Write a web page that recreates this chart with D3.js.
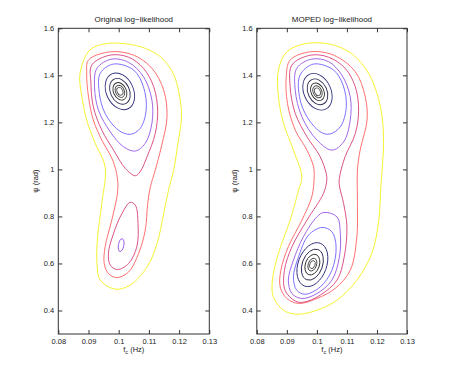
<!DOCTYPE html>
<html>
<head>
<meta charset="utf-8">
<script src="https://cdn.jsdelivr.net/npm/d3@7"></script>
<style>
  body { margin: 0; background: #fff; }
  svg { display: block; }
  text { font-family: "Liberation Sans", Arial, Helvetica, sans-serif; fill: #222; }
</style>
</head>
<body>
<svg id="chart" width="450" height="377"></svg>
<script>
// axis ticks
const fTicks = [0.08, 0.09, 0.1, 0.11, 0.12, 0.13];
const fTickLabels = ["0.08", "0.09", "0.1", "0.11", "0.12", "0.13"];
const psiTicks = [0.4, 0.6, 0.8, 1.0, 1.2, 1.4, 1.6];
const psiTickLabels = ["0.4", "0.6", "0.8", "1", "1.2", "1.4", "1.6"];
const titles = ["Original log\u2212likelihood", "MOPED log\u2212likelihood"];

// contour level colours, outermost (lowest) to innermost (peak)
const levelColors = ["#f2f21a", "#ff6060", "#d6407a", "#9456e6", "#6e60ff",
  "#32327e", "#2a2a52", "#303030", "#404040", "#505050"];

// ---- Original log-likelihood: traced contours [f_c, psi]
const origYellow = [[0.0966, 1.536], [0.0905, 1.508], [0.0872, 1.409], [0.0878, 1.309],
  [0.0894, 1.21], [0.0922, 1.111], [0.0955, 1.011], [0.0944, 0.855], [0.0930, 0.713],
  [0.0928, 0.60], [0.0939, 0.529], [0.0988, 0.491], [0.1038, 0.508], [0.1094, 0.585],
  [0.1127, 0.685], [0.1149, 0.813], [0.1165, 0.912], [0.1182, 0.997], [0.1196, 1.111],
  [0.1208, 1.224], [0.1200, 1.323], [0.1180, 1.409], [0.1138, 1.479], [0.1071, 1.522]];
const origRed = [[0.0972, 1.50], [0.0900, 1.465], [0.0894, 1.409], [0.0900, 1.309],
  [0.0916, 1.21], [0.0944, 1.125], [0.0980, 1.04], [0.0996, 0.96], [0.0996, 0.90],
  [0.0977, 0.784], [0.0955, 0.671], [0.0952, 0.60], [0.0966, 0.557], [0.0994, 0.540],
  [0.1033, 0.564], [0.1066, 0.643], [0.1088, 0.742], [0.1096, 0.855], [0.1105, 0.926],
  [0.1121, 0.997], [0.1142, 1.10], [0.1160, 1.224], [0.1149, 1.337], [0.1110, 1.430],
  [0.1049, 1.486]];
const origMagentaTop = [[0.0972, 1.486], [0.0911, 1.444], [0.0908, 1.366], [0.0916, 1.266],
  [0.0944, 1.167], [0.0983, 1.082], [0.1022, 1.004], [0.1055, 0.973], [0.1071, 0.99],
  [0.1094, 1.054], [0.1121, 1.153], [0.1129, 1.252], [0.1116, 1.351], [0.1082, 1.430],
  [0.1033, 1.477]];
const origMagentaLow = [[0.1038, 0.860], [0.1011, 0.813], [0.0983, 0.728], [0.0966, 0.643],
  [0.0972, 0.593], [0.0996, 0.574], [0.1033, 0.60], [0.1060, 0.671], [0.1064, 0.770],
  [0.1055, 0.848]];
const origPurpleTop = [[0.0977, 1.469], [0.0928, 1.430], [0.0920, 1.351], [0.0933, 1.252],
  [0.0972, 1.160], [0.1016, 1.096], [0.1055, 1.078], [0.1088, 1.111], [0.1110, 1.196],
  [0.1110, 1.295], [0.1082, 1.394], [0.1033, 1.455]];
const origBlueTop = [[0.0983, 1.448], [0.0939, 1.409], [0.0936, 1.323], [0.0955, 1.238],
  [0.0999, 1.167], [0.1038, 1.149], [0.1071, 1.174], [0.1091, 1.252], [0.1082, 1.351],
  [0.1049, 1.423]];
// closed small contours as ellipses: [f_c, psi, half-axis f, half-axis psi, tilt deg, level]
const origRings = [
  [0.1004, 1.332, 0.00449, 0.0817, -25, 5],
  [0.1004, 1.332, 0.00316, 0.0574, -25, 6],
  [0.1004, 1.332, 0.00213, 0.0391, -25, 7],
  [0.1004, 1.332, 0.00146, 0.0268, -25, 8],
  [0.1004, 1.332, 0.00093, 0.0170, -25, 9],
  [0.1008, 0.678, 0.00090, 0.0275, 10, 3]];

// ---- MOPED log-likelihood
const mopedYellow = [[0.0967, 1.536], [0.0900, 1.50], [0.0872, 1.423], [0.0872, 1.309],
  [0.0889, 1.196], [0.0922, 1.082], [0.0950, 0.968], [0.0939, 0.912], [0.0911, 0.784],
  [0.0872, 0.643], [0.0852, 0.529], [0.0855, 0.458], [0.0889, 0.401], [0.0933, 0.384],
  [0.1000, 0.401], [0.1067, 0.444], [0.1133, 0.529], [0.1183, 0.643], [0.1206, 0.784],
  [0.1213, 0.926], [0.1217, 0.997], [0.1222, 1.111], [0.1217, 1.224], [0.1200, 1.323],
  [0.1172, 1.409], [0.1122, 1.486], [0.1055, 1.529]];
const mopedRed = [[0.0978, 1.50], [0.0911, 1.465], [0.0898, 1.394], [0.0902, 1.281],
  [0.0928, 1.167], [0.0967, 1.082], [0.0989, 1.011], [0.0991, 0.968], [0.0983, 0.883],
  [0.0950, 0.784], [0.0905, 0.671], [0.0880, 0.571], [0.0878, 0.50], [0.0900, 0.451],
  [0.0939, 0.430], [0.1000, 0.451], [0.1061, 0.494], [0.1111, 0.571], [0.1133, 0.713],
  [0.1135, 0.855], [0.1135, 0.997], [0.1144, 1.082], [0.1167, 1.21], [0.1161, 1.309],
  [0.1128, 1.415], [0.1055, 1.486]];
const mopedMagenta = [[0.0980, 1.486], [0.0917, 1.444], [0.0911, 1.351], [0.0928, 1.238],
  [0.0967, 1.139], [0.1011, 1.054], [0.1031, 0.983], [0.1033, 0.954], [0.1022, 0.898],
  [0.0967, 0.784], [0.0917, 0.671], [0.0892, 0.571], [0.0894, 0.486], [0.0928, 0.440],
  [0.0955, 0.435], [0.1011, 0.465], [0.1067, 0.529], [0.1091, 0.628], [0.1100, 0.756],
  [0.1089, 0.855], [0.1074, 0.940], [0.1078, 0.983], [0.1094, 1.054], [0.1128, 1.153],
  [0.1139, 1.252], [0.1128, 1.351], [0.1094, 1.430], [0.1039, 1.477]];
const mopedPurpleTop = [[0.0983, 1.469], [0.0933, 1.430], [0.0928, 1.337], [0.0950, 1.224],
  [0.1000, 1.125], [0.1050, 1.082], [0.1089, 1.117], [0.1111, 1.21], [0.1111, 1.309],
  [0.1083, 1.401], [0.1039, 1.458]];
const mopedBlueTop = [[0.0989, 1.448], [0.0944, 1.401], [0.0942, 1.309], [0.0967, 1.224],
  [0.1011, 1.16], [0.1042, 1.150], [0.1078, 1.181], [0.1098, 1.266], [0.1087, 1.359],
  [0.1055, 1.423]];
const mopedPurpleLow = [[0.1024, 0.817], [0.1000, 0.798], [0.0955, 0.713], [0.0922, 0.614],
  [0.0905, 0.529], [0.0917, 0.472], [0.0950, 0.451], [0.1000, 0.472], [0.1050, 0.529],
  [0.1075, 0.628], [0.1078, 0.728], [0.1067, 0.798]];
const mopedBlueLow = [[0.1017, 0.753], [0.0972, 0.720], [0.0939, 0.628], [0.0922, 0.543],
  [0.0933, 0.486], [0.0961, 0.469], [0.1011, 0.50], [0.1050, 0.571], [0.1064, 0.671],
  [0.1050, 0.735]];
const mopedRings = [
  [0.1002, 1.330, 0.00449, 0.0817, -25, 5],
  [0.1002, 1.330, 0.00316, 0.0574, -25, 6],
  [0.1002, 1.330, 0.00213, 0.0391, -25, 7],
  [0.1002, 1.330, 0.00146, 0.0268, -25, 8],
  [0.1002, 1.330, 0.00093, 0.0170, -25, 9],
  [0.0985, 0.595, 0.00474, 0.0970, 20, 5],
  [0.0985, 0.595, 0.00338, 0.0685, 20, 6],
  [0.0985, 0.595, 0.00232, 0.0455, 20, 7],
  [0.0985, 0.595, 0.00138, 0.0280, 20, 8],
  [0.0985, 0.595, 0.00087, 0.0175, 20, 9]];

const panels = [
  {
    title: titles[0], left: 58.3, right: 209.3,
    paths: [[origYellow, 0], [origRed, 1], [origMagentaTop, 2], [origMagentaLow, 2],
      [origPurpleTop, 3], [origBlueTop, 4]],
    rings: origRings
  },
  {
    title: titles[1], left: 256.8, right: 407,
    paths: [[mopedYellow, 0], [mopedRed, 1], [mopedMagenta, 2], [mopedPurpleTop, 3],
      [mopedBlueTop, 4], [mopedPurpleLow, 3], [mopedBlueLow, 4]],
    rings: mopedRings
  }
];

const plotTop = 28.3, plotBottom = 334;
const svg = d3.select("#chart");
svg.append("rect").attr("width", 450).attr("height", 377).attr("fill", "#fff");

panels.forEach((p) => {
  const x = d3.scaleLinear().domain([0.08, 0.13]).range([p.left, p.right]);
  const y = d3.scaleLinear().domain([0.3, 1.6]).range([plotBottom, plotTop]);
  const g = svg.append("g");

  const line = d3.line()
    .x((d) => x(d[0]))
    .y((d) => y(d[1]))
    .curve(d3.curveCatmullRomClosed.alpha(0.5));

  g.selectAll("path.contour")
    .data(p.paths)
    .join("path")
    .attr("class", "contour")
    .attr("d", (d) => line(d[0]))
    .attr("fill", "none")
    .attr("stroke", (d) => levelColors[d[1]])
    .attr("stroke-width", 0.9);

  g.selectAll("ellipse.ring")
    .data(p.rings)
    .join("ellipse")
    .attr("class", "ring")
    .attr("cx", (d) => x(d[0]))
    .attr("cy", (d) => y(d[1]))
    .attr("rx", (d) => x(d[0] + d[2]) - x(d[0]))
    .attr("ry", (d) => y(d[1] - d[3]) - y(d[1]))
    .attr("transform", (d) => `rotate(${d[4]}, ${x(d[0])}, ${y(d[1])})`)
    .attr("fill", "none")
    .attr("stroke", (d) => levelColors[d[5]])
    .attr("stroke-width", 0.9);

  // axes, MATLAB style: ticks inside on all four sides
  const fmtF = (d) => fTickLabels[fTicks.indexOf(d)];
  const fmtP = (d) => psiTickLabels[psiTicks.indexOf(d)];

  const axB = g.append("g").attr("transform", `translate(0,${plotBottom})`)
    .call(d3.axisBottom(x).tickValues(fTicks).tickFormat(fmtF).tickSize(-4).tickPadding(5));
  const axT = g.append("g").attr("transform", `translate(0,${plotTop})`)
    .call(d3.axisTop(x).tickValues(fTicks).tickFormat("").tickSize(-4));
  const axL = g.append("g").attr("transform", `translate(${p.left},0)`)
    .call(d3.axisLeft(y).tickValues(psiTicks).tickFormat(fmtP).tickSize(-4).tickPadding(4));
  const axR = g.append("g").attr("transform", `translate(${p.right},0)`)
    .call(d3.axisRight(y).tickValues(psiTicks).tickFormat("").tickSize(-4));

  [axB, axT, axL, axR].forEach((a) => {
    a.select(".domain").remove();
    a.selectAll("line").attr("stroke", "#333");
    a.selectAll("text").attr("font-size", "7.5px").attr("fill", "#222")
      .attr("font-family", "Liberation Sans, Arial, sans-serif");
  });

  g.append("rect")
    .attr("x", p.left).attr("y", plotTop)
    .attr("width", p.right - p.left).attr("height", plotBottom - plotTop)
    .attr("fill", "none").attr("stroke", "#333").attr("stroke-width", 1);

  const cx = (p.left + p.right) / 2;
  g.append("text")
    .attr("x", cx).attr("y", 22)
    .attr("text-anchor", "middle")
    .attr("font-size", "8px")
    .text(p.title);

  const xl = g.append("text")
    .attr("x", cx).attr("y", 352)
    .attr("text-anchor", "middle")
    .attr("font-size", "7.5px");
  xl.append("tspan").text("f");
  xl.append("tspan").attr("font-size", "5.5px").attr("dy", 2).text("c");
  xl.append("tspan").attr("dy", -2).text(" (Hz)");

  g.append("text")
    .attr("transform", `translate(${p.left - 20},${(plotTop + plotBottom) / 2}) rotate(-90)`)
    .attr("text-anchor", "middle")
    .attr("font-size", "7.5px")
    .text("\u03c8 (rad)");
});
</script>
</body>
</html>
